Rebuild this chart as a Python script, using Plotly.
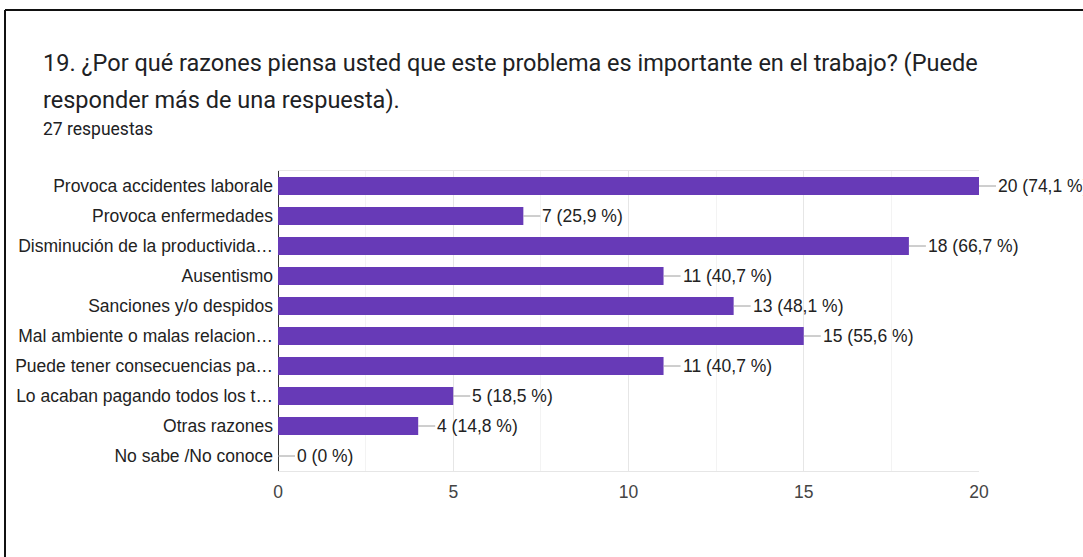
import plotly.graph_objects as go

# Survey question 19, 27 answers
categories = [
    "Provoca accidentes laborale",
    "Provoca enfermedades",
    "Disminución de la productivida…",
    "Ausentismo",
    "Sanciones y/o despidos",
    "Mal ambiente o malas relacion…",
    "Puede tener consecuencias pa…",
    "Lo acaban pagando todos los t…",
    "Otras razones",
    "No sabe /No conoce",
]
counts = [20, 7, 18, 11, 13, 15, 11, 5, 4, 0]
percents = ["74,1 %", "25,9 %", "66,7 %", "40,7 %", "48,1 %",
            "55,6 %", "40,7 %", "18,5 %", "14,8 %", "0 %"]
x_ticks = [0, 5, 10, 15, 20]

TITLE_1 = "19. ¿Por qué razones piensa usted que este problema es importante en el trabajo? (Puede"
TITLE_2 = "responder más de una respuesta)."
SUBTITLE = "27 respuestas"

W, H = 1083, 557
L, R, T, B = 278, 104, 171, 86
PW, PH = W - L - R, H - T - B
CHART_FONT = "Liberation Sans, Arial"


def px_x(p):
    return (p - L) / PW


def px_y(p):
    return (H - B - p) / PH


fig = go.Figure()
fig.add_trace(go.Bar(
    x=counts,
    y=categories,
    orientation="h",
    marker=dict(color="#673ab7", line=dict(width=0)),
    hoverinfo="skip",
))

# value labels with short leader lines
for c, v, p in zip(categories, counts, percents):
    fig.add_annotation(
        x=v, y=c, xref="x", yref="y",
        text=f"{v} ({p})",
        showarrow=True, arrowhead=0, arrowwidth=1, arrowcolor="#9e9e9e",
        ax=17, ay=0, xanchor="left", standoff=0,
        font=dict(family=CHART_FONT, size=17.5, color="#222222"),
    )

# title block
for txt, yc, size in [(TITLE_1, 63, 23.5), (TITLE_2, 100, 23.5), (SUBTITLE, 129, 17.5)]:
    fig.add_annotation(x=px_x(41), y=px_y(yc), xref="paper", yref="paper",
                       text=txt, showarrow=False, xanchor="left", yanchor="middle",
                       font=dict(family="Roboto", size=size, color="#202124"))

# frame lines (top and left edges of the screenshot)
fig.add_shape(type="line", xref="paper", yref="paper",
              x0=px_x(5), x1=px_x(W + 5), y0=px_y(10), y1=px_y(10),
              line=dict(color="#111111", width=2))
fig.add_shape(type="line", xref="paper", yref="paper",
              x0=px_x(5), x1=px_x(5), y0=px_y(10), y1=px_y(H + 5),
              line=dict(color="#111111", width=2))

fig.update_layout(
    width=W, height=H,
    margin=dict(l=L, r=R, t=T, b=B),
    paper_bgcolor="white",
    plot_bgcolor="white",
    showlegend=False,
    bargap=0.4,
    font=dict(family=CHART_FONT, size=17.5, color="#222222"),
)
fig.update_xaxes(
    range=[0, 20],
    tickvals=x_ticks,
    tickfont=dict(size=17.5, color="#444444"),
    showgrid=True, gridcolor="#e6e6e6", gridwidth=1,
    minor=dict(dtick=2.5, showgrid=True, gridcolor="#f3f3f3"),
    zeroline=True, zerolinecolor="#333333", zerolinewidth=1,
    showline=True, mirror=True, linecolor="#e6e6e6",
    ticks="", ticklabelstandoff=5,
    fixedrange=True,
)
fig.update_yaxes(
    autorange="reversed",
    tickfont=dict(size=17.5, color="#222222"),
    showgrid=False, ticks="", ticklabelstandoff=4,
    fixedrange=True,
)

# drop the browser's default body margin so the figure sits at the page origin
fig.write_html(
    "out.html",
    config={"displayModeBar": False},
    post_script="document.body.style.margin='0px';",
)
